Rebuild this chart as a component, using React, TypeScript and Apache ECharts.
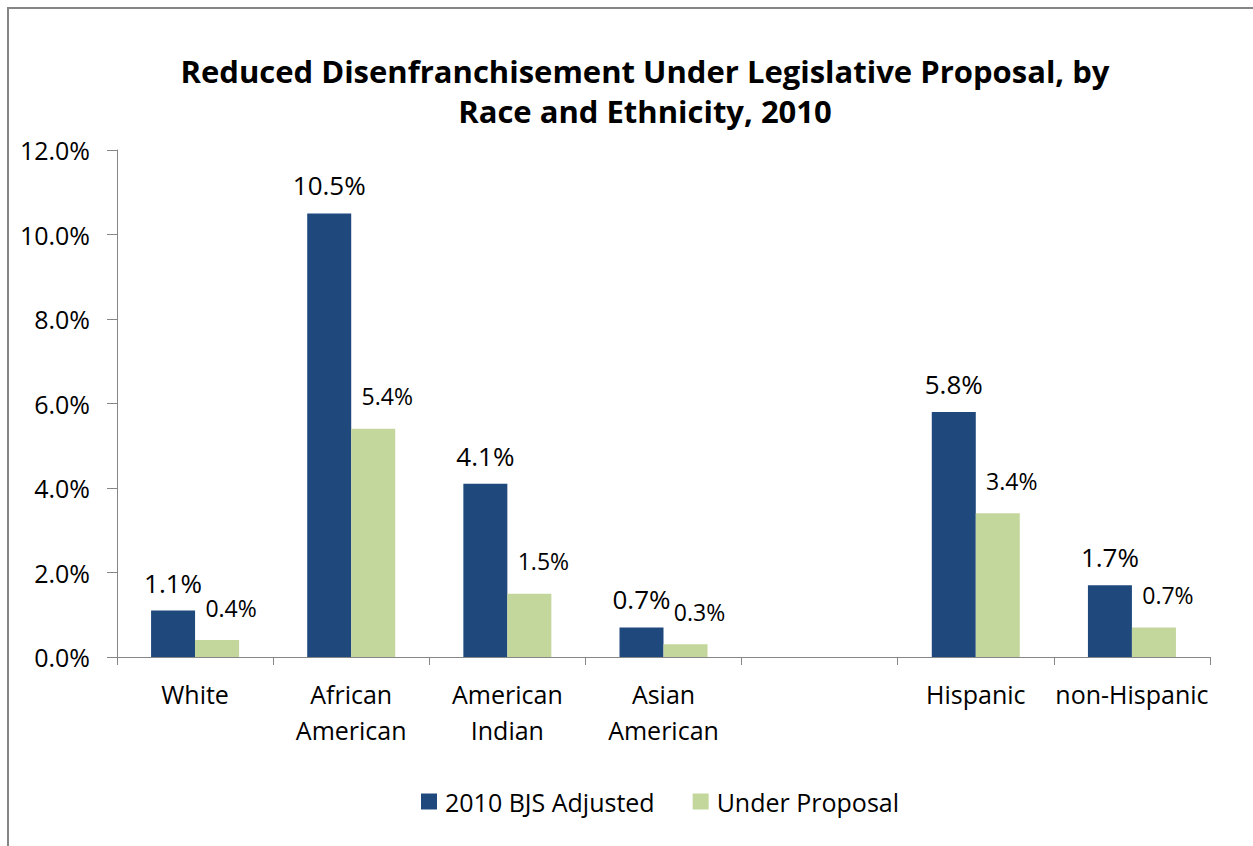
import React, { useEffect, useRef } from "react";
import * as echarts from "echarts";

const categories = ["White", "African\nAmerican", "American\nIndian", "Asian\nAmerican", "", "Hispanic", "non-Hispanic"];
const bjsAdjusted: (number | string)[] = [1.1, 10.5, 4.1, 0.7, "-", 5.8, 1.7];
const underProposal: (number | string)[] = [0.4, 5.4, 1.5, 0.3, "-", 3.4, 0.7];
const seriesNames = ["2010 BJS Adjusted", "Under Proposal"];
const titleText = "Reduced Disenfranchisement Under Legislative Proposal, by\nRace and Ethnicity, 2010";

const FONT = "'Open Sans', 'Noto Sans', sans-serif";

export default function App() {
  const ref = useRef<HTMLDivElement>(null);
  useEffect(() => {
    if (!ref.current) return;
    const chart = echarts.init(ref.current, undefined, { renderer: "svg" });
    chart.setOption({
      animation: false,
      backgroundColor: "#ffffff",
      textStyle: { fontFamily: FONT },
      title: {
        text: titleText,
        left: 640,
        textAlign: "center",
        top: 46,
        textStyle: { fontFamily: FONT, fontSize: 31, fontWeight: "bold", color: "#000", lineHeight: 40 },
      },
      graphic: [
        {
          type: "rect",
          shape: { x: 8, y: 8, width: 1300, height: 900 },
          style: { fill: "none", stroke: "#868686", lineWidth: 2 },
          silent: true,
        },
      ],
      legend: {
        data: seriesNames,
        left: 416,
        top: 784,
        itemWidth: 16,
        itemHeight: 16,
        itemGap: 38,
        icon: "rect",
        textStyle: { fontFamily: FONT, fontSize: 25, color: "#000", padding: [0, 0, 0, 3] },
      },
      grid: { left: 117, right: 43, top: 150, bottom: 189, containLabel: false },
      xAxis: {
        type: "category",
        data: categories,
        axisLine: { lineStyle: { color: "#868686", width: 1 } },
        axisTick: { show: true, length: 8, lineStyle: { color: "#868686" }, alignWithLabel: false },
        axisLabel: { interval: 0, fontFamily: FONT, fontSize: 25, color: "#000", lineHeight: 36, margin: 19 },
      },
      yAxis: {
        type: "value",
        min: 0,
        max: 12,
        interval: 2,
        splitLine: { show: false },
        axisLine: { show: true, lineStyle: { color: "#868686", width: 1 } },
        axisTick: { show: true, length: 10, lineStyle: { color: "#868686" } },
        axisLabel: {
          fontFamily: FONT,
          fontSize: 25,
          color: "#000",
          margin: 27,
          formatter: (v: number) => v.toFixed(1) + "%",
        },
      },
      series: [
        {
          name: seriesNames[0],
          type: "bar",
          data: bjsAdjusted,
          barWidth: 44,
          barGap: "0%",
          itemStyle: { color: "#1F497D" },
          label: {
            show: true,
            position: "top",
            distance: 15,
            fontFamily: FONT,
            fontSize: 26,
            color: "#000",
            formatter: (p: any) => Number(p.value).toFixed(1) + "%",
          },
        },
        {
          name: seriesNames[1],
          type: "bar",
          data: underProposal,
          barWidth: 44,
          barGap: "0%",
          itemStyle: { color: "#C3D69B" },
          label: {
            show: true,
            position: "top",
            distance: 21,
            offset: [14, 0],
            fontFamily: FONT,
            fontSize: 23,
            color: "#000",
            formatter: (p: any) => Number(p.value).toFixed(1) + "%",
          },
        },
      ],
    });
    return () => chart.dispose();
  }, []);
  return (
    <div
      ref={ref}
      style={{ position: "absolute", left: 0, top: 0, width: 1253, height: 846 }}
    />
  );
}
